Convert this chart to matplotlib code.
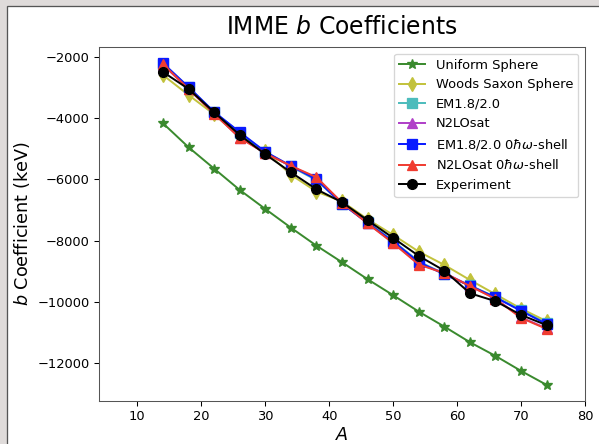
import matplotlib
matplotlib.use("Agg")
import matplotlib.pyplot as plt
from matplotlib.patches import Rectangle

A = [14, 18, 22, 26, 30, 34, 38, 42, 46, 50, 54, 58, 62, 66, 70, 74]

uniform = [-4172, -4954, -5651, -6346, -6966, -7576, -8163, -8704, -9258,
           -9780, -10314, -10803, -11312, -11759, -12248, -12704]
woods_saxon = [-2600, -3250, -3880, -4600, -5080, -5850, -6400, -6720, -7300,
               -7814, -8358, -8792, -9282, -9748, -10217, -10628]
em = [-2230, -3000, -3810, -4480, -5110, -5580, -6030, -6790, -7400,
      -8010, -8680, -9080, -9460, -9840, -10270, -10700]
n2lo = [-2260, -3060, -3850, -4640, -5140, -5570, -5960, -6770, -7430,
        -8070, -8760, -9050, -9470, -9890, -10500, -10860]
em_shell = [-2210, -2990, -3800, -4460, -5100, -5560, -6000, -6800, -7420,
            -8030, -8700, -9100, -9470, -9850, -10290, -10720]
n2lo_shell = [-2250, -3050, -3860, -4650, -5150, -5560, -5930, -6760, -7440,
              -8080, -8780, -9060, -9480, -9900, -10520, -10880]
experiment = [-2499, -3053, -3814, -4553, -5183, -5770, -6324, -6748, -7334,
              -7912, -8498, -8978, -9714, -9975, -10422, -10758]

DPI = 94
fig = plt.figure(figsize=(599 / DPI, 444 / DPI), dpi=DPI, facecolor='#dfdbda')
fig.add_artist(Rectangle((7 / 599, -0.1), 1.2, (444 - 6) / 444 + 0.1,
                         transform=fig.transFigure, facecolor='white',
                         edgecolor='#555555', lw=1, zorder=-5))

ax = fig.add_axes([99 / 599, (444 - 401) / 444, (585 - 99) / 599, (401 - 47) / 444])

ms = 7.5
ax.plot(A, uniform, '-*', color='#3a8a2e', ms=ms, label='Uniform Sphere')
ax.plot(A, woods_saxon, '-d', color='#c2c23c', ms=ms, label='Woods Saxon Sphere')
ax.plot(A, em, '-s', color='#4cbcbc', ms=ms, label='EM1.8/2.0')
ax.plot(A, n2lo, '-^', color='#b040c8', ms=ms, label='N2LOsat')
ax.plot(A, em_shell, '-s', color='#0a1aff', ms=ms, label=r'EM1.8/2.0 0$\hbar\omega$-shell')
ax.plot(A, n2lo_shell, '-^', color='#f03c30', ms=ms, label=r'N2LOsat 0$\hbar\omega$-shell')
ax.plot(A, experiment, '-o', color='black', ms=ms, label='Experiment')

ax.set_xlim(4, 80)
ax.set_title(r'IMME $b$ Coefficients', fontsize=18, pad=10)
ax.set_xlabel(r'$A$', fontsize=13.5, labelpad=2)
ax.set_ylabel(r'$b$ Coefficient (keV)', fontsize=13.5)
ax.tick_params(labelsize=10)
for s in ax.spines.values():
    s.set_color('#555555')
ax.legend(loc='upper right', fontsize=10)

fig.savefig('out.png', dpi=DPI, facecolor=fig.get_facecolor())
